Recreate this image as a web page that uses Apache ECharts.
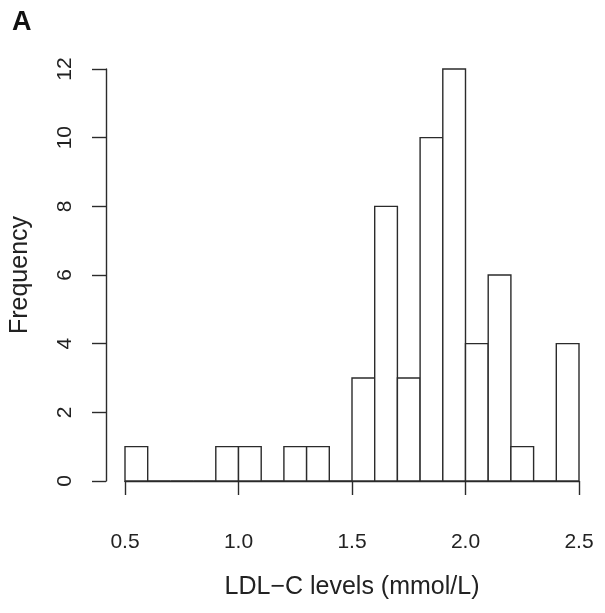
<!DOCTYPE html>
<html>
<head>
<meta charset="utf-8">
<script src="https://cdn.jsdelivr.net/npm/echarts@6/dist/echarts.min.js"></script>
<style>
html,body{margin:0;padding:0;background:#fff;}
#chart{width:605px;height:613px;}
</style>
</head>
<body>
<div id="chart"></div>
<script>
// Histogram bin edges (mmol/L) and counts
var binBreaks = [0.5,0.6,0.7,0.8,0.9,1.0,1.1,1.2,1.3,1.4,1.5,1.6,1.7,1.8,1.9,2.0,2.1,2.2,2.3,2.4,2.5];
var binCounts = [1,0,0,0,1,1,0,1,1,0,3,8,3,10,12,4,6,1,0,4];
var xTicks = [0.5,1.0,1.5,2.0,2.5];
var yTicks = [0,2,4,6,8,10,12];
var panelLabel = 'A';
var xTitle = 'LDL\u2212C levels (mmol/L)';
var yTitle = 'Frequency';

var seriesData = binCounts.map(function(c, i){ return [binBreaks[i], binBreaks[i+1], c]; });

var FONT = '"Liberation Sans", Arial, sans-serif';
var INK = '#2b2b2b';

var chart = echarts.init(document.getElementById('chart'), null, {renderer:'canvas'});
chart.setOption({
  backgroundColor:'#fff',
  animation:false,
  title:{text:panelLabel,left:7,top:4,textStyle:{fontFamily:FONT,fontWeight:'bold',fontSize:27,color:'#111'}},
  grid:{left:125,right:26,top:69,bottom:132},
  xAxis:{
    type:'value',min:xTicks[0],max:xTicks[xTicks.length-1],interval:0.5,offset:17,
    axisLine:{show:true,lineStyle:{color:INK,width:1.4}},
    axisTick:{show:true,length:14,lineStyle:{color:INK,width:1.4}},
    axisLabel:{margin:34,fontFamily:FONT,fontSize:21,color:'#222',formatter:function(v){return v.toFixed(1);}},
    splitLine:{show:false},
    name:xTitle,nameLocation:'middle',nameGap:77,
    nameTextStyle:{fontFamily:FONT,fontSize:25,color:'#222'}
  },
  yAxis:{
    type:'value',min:yTicks[0],max:yTicks[yTicks.length-1],interval:2,offset:19,
    axisLine:{show:true,lineStyle:{color:INK,width:1.4}},
    axisTick:{show:true,length:14,lineStyle:{color:INK,width:1.4}},
    axisLabel:{margin:30,rotate:90,fontFamily:FONT,fontSize:21,color:'#222'},
    splitLine:{show:false},
    name:yTitle,nameLocation:'middle',nameGap:73,nameRotate:90,
    nameTextStyle:{fontFamily:FONT,fontSize:25,color:'#222'}
  },
  series:[{
    type:'custom',
    data:seriesData,
    encode:{x:[0,1],y:2},
    renderItem:function(params, api){
      var p0 = api.coord([api.value(0), 0]);
      var p1 = api.coord([api.value(1), api.value(2)]);
      return {
        type:'rect',
        shape:{x:p0[0],y:p1[1],width:p1[0]-p0[0],height:p0[1]-p1[1]},
        style:{fill:'#fff',stroke:INK,lineWidth:1.4}
      };
    }
  }]
});
</script>
</body>
</html>
